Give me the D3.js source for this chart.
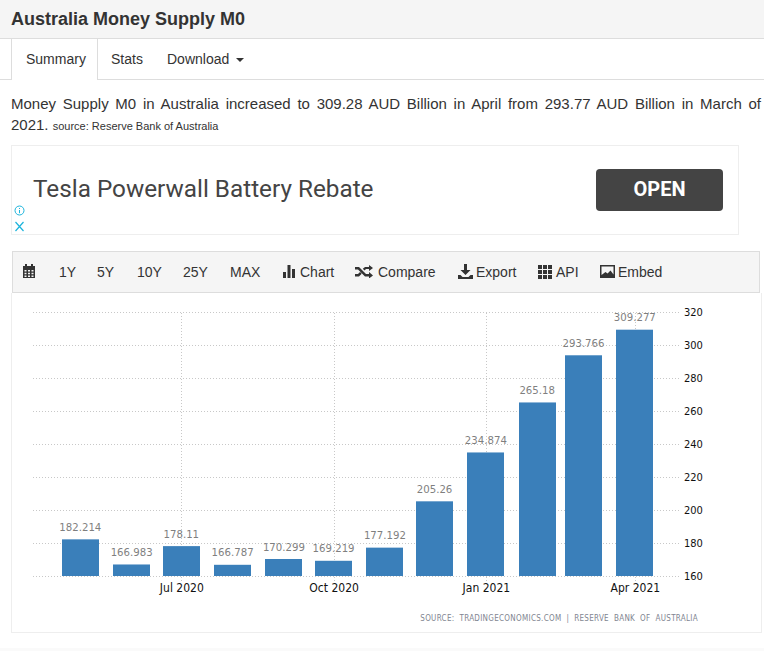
<!DOCTYPE html>
<html lang="en">
<head>
  <meta charset="UTF-8">
  <title>Australia Money Supply M0</title>
  <style>
    html, body { margin: 0; padding: 0; background: #fff; }
    body { width: 764px; height: 651px; position: relative; overflow: hidden; font-family: "Liberation Sans", sans-serif; color: #333; }
    .abs { position: absolute; white-space: nowrap; }
    #header { left: 0; top: 0; width: 764px; height: 38px; background: #f5f5f5; border-bottom: 1px solid #ddd; }
    #title { left: 11px; top: 9px; font-size: 18px; font-weight: bold; line-height: 20px; }
    #tabline { left: 0; top: 79px; width: 764px; height: 1px; background: #ddd; }
    #tab { left: 11px; top: 39px; width: 85px; height: 41px; background: #fff; border-right: 1px solid #ddd; border-left: 1px solid #ddd; box-sizing: content-box; }
    .tabtext { top: 51px; font-size: 14px; line-height: 16px; }
    #caret { left: 236px; top: 58px; width: 0; height: 0; border-left: 4px solid transparent; border-right: 4px solid transparent; border-top: 4px solid #333; }
    #summary1 { left: 11px; top: 93px; width: 750px; white-space: normal; font-size: 15px; line-height: 21.5px; text-align: justify; text-align-last: justify; }
    #summary2 { left: 11px; top: 113.500px; font-size: 15px; line-height: 21.5px; }
    #summary2 small { font-size: 11px; }
    #ad { left: 11px; top: 145px; width: 726px; height: 88px; border: 1px solid #eee; }
    #adtext { left: 33px; top: 175px; font-family: Roboto, sans-serif; font-size: 24.3px; line-height: 28px; color: #444; }
    #adbtn { left: 596px; top: 169px; width: 127px; height: 42px; background: #444; border-radius: 4px; color: #fff; font-family: Roboto, sans-serif; font-weight: bold; font-size: 20px; line-height: 41px; text-align: center; }
    #toolbar { left: 12px; top: 251px; width: 746px; height: 40px; background: #f5f5f5; border: 1px solid #ddd; }
    .tool { top: 264px; font-size: 14px; line-height: 16px; color: #333; }
    #panel { left: 11px; top: 293px; width: 749px; height: 339px; border: 1px solid #eee; border-top: none; }
    #foot { left: 0; top: 648px; width: 764px; height: 3px; background: #fafafa; }
    #chart { left: 0; top: 0; }
    #chart text { font-family: "DejaVu Sans Condensed", "DejaVu Sans", sans-serif; }
    .grid line { stroke: #c8c8c8; stroke-width: 1; stroke-dasharray: 1 2; shape-rendering: crispEdges; }
    .grid path { display: none; }
    .axis path { display: none; }
    .axis text { font-size: 11px; fill: #111; }
    .axis.bottom text { font-size: 12px; }
    .value { font-size: 11.3px; fill: #7f7f7f; text-anchor: middle; }
    .credit { font-size: 8px; fill: #7f8591; text-anchor: end; letter-spacing: 0.3px; word-spacing: 2.4px; }
    svg.icon { position: absolute; fill: #333; }
  </style>
</head>
<body>
  <div class="abs" id="header"></div>
  <div class="abs" id="title">Australia Money Supply M0</div>
  <div class="abs" id="tabline"></div>
  <div class="abs" id="tab"></div>
  <div class="abs tabtext" style="left:26px">Summary</div>
  <div class="abs tabtext" style="left:111px">Stats</div>
  <div class="abs tabtext" style="left:167px">Download</div>
  <div class="abs" id="caret"></div>
  <div class="abs" id="summary1">Money Supply M0 in Australia increased to 309.28 AUD Billion in April from 293.77 AUD Billion in March of</div>
  <div class="abs" id="summary2">2021. <small>source: Reserve Bank of Australia</small></div>

  <div class="abs" id="ad"></div>
  <div class="abs" id="adtext">Tesla Powerwall Battery Rebate</div>
  <div class="abs" id="adbtn">OPEN</div>
  <svg class="icon" style="left:12px;top:204px" width="15" height="30" viewBox="0 0 15 30">
    <circle cx="7.5" cy="6.5" r="4.5" fill="none" stroke="#1cb4dc" stroke-width="1"/>
    <path d="M7.5 4v1M7.5 6v3.2" stroke="#1cb4dc" stroke-width="1" fill="none"/>
    <path d="M3.5 18l8 9M11.5 18l-8 9" stroke="#1cb4dc" stroke-width="1.2" fill="none"/>
  </svg>

  <div class="abs" id="toolbar"></div>
  <div class="abs" id="panel"></div>
  <div class="abs" id="foot"></div>

  <svg class="icon" style="left:22px;top:264px" width="14" height="15" viewBox="0 0 14 15">
    <path d="M1 2h2V0h2v2h4V0h2v2h2v12H1z"/>
    <path d="M2.500 6h2v1.500h-2zM6 6h2v1.500H6zM9.500 6h2v1.500h-2zM2.500 8.800h2v1.500h-2zM6 8.800h2v1.500H6zM9.500 8.800h2v1.500h-2zM2.500 11.500h2V13h-2zM6 11.500h2V13H6zM9.500 11.500h2V13h-2z" fill="#f5f5f5"/>
  </svg>
  <div class="abs tool" style="left:59px">1Y</div>
  <div class="abs tool" style="left:97px">5Y</div>
  <div class="abs tool" style="left:137px">10Y</div>
  <div class="abs tool" style="left:183px">25Y</div>
  <div class="abs tool" style="left:230px">MAX</div>
  <svg class="icon" style="left:283px;top:264px" width="14" height="15" viewBox="0 0 14 15">
    <path d="M0 8h3v6H0zM4.500 1h3v13h-3zM9 5h3v9H9z"/>
  </svg>
  <div class="abs tool" style="left:300px">Chart</div>
  <svg class="icon" style="left:355px;top:265px" width="18" height="13" viewBox="0 0 18 13">
    <path d="M0 2h4l7 7h3V7l4 3.500-4 3v-2h-4L3 4.500H0zM0 9h3l2-2 1.700 1.700L4 11.500H0zM10 2h4V0l4 3-4 3V4h-3L9.500 5.500 7.800 3.800z"/>
  </svg>
  <div class="abs tool" style="left:378px">Compare</div>
  <svg class="icon" style="left:458px;top:264px" width="15" height="15" viewBox="0 0 15 15">
    <path d="M6 0h3v6h3.500l-5 5-5-5H6zM0 11h2.500l2 2h6l2-2H15v4H0z"/>
  </svg>
  <div class="abs tool" style="left:476px">Export</div>
  <svg class="icon" style="left:538px;top:265px" width="14" height="14" viewBox="0 0 14 14">
    <path d="M0 0h4v4H0zM5 0h4v4H5zM10 0h4v4h-4zM0 5h4v4H0zM5 5h4v4H5zM10 5h4v4h-4zM0 10h4v4H0zM5 10h4v4H5zM10 10h4v4h-4z"/>
  </svg>
  <div class="abs tool" style="left:556px">API</div>
  <svg class="icon" style="left:600px;top:265px" width="15" height="13" viewBox="0 0 15 13">
    <path d="M0 0h15v13H0z"/>
    <path d="M1.500 1.500h12v8l-3-4-3 3-2-1.500-4 3z" fill="#f5f5f5"/>
  </svg>
  <div class="abs tool" style="left:618px">Embed</div>

  <svg class="abs" id="chart" width="764" height="651"></svg>

  <script src="https://d3js.org/d3.v7.min.js"></script>
  <script>
    // values
    const months = ["2020-05", "2020-06", "2020-07", "2020-08", "2020-09", "2020-10",
                    "2020-11", "2020-12", "2021-01", "2021-02", "2021-03", "2021-04"];
    const values = [182.214, 166.983, 178.11, 166.787, 170.299, 169.219,
                    177.192, 205.26, 234.874, 265.18, 293.766, 309.277];
    const valueLabels = ["182.214", "166.983", "178.11", "166.787", "170.299", "169.219",
                         "177.192", "205.26", "234.874", "265.18", "293.766", "309.277"];
    const yTicks = [160, 180, 200, 220, 240, 260, 280, 300, 320];
    const xTickMonths = ["2020-07", "2020-10", "2021-01", "2021-04"];
    const credit = "SOURCE: TRADINGECONOMICS.COM | RESERVE BANK OF AUSTRALIA";

    const parseMonth = d3.timeParse("%Y-%m");
    const plotLeft = 33, plotRight = 680, plotTop = 312, plotBottom = 576, barWidth = 37;

    const x = d3.scaleTime()
      .domain([new Date(2020, 3, 2, 9, 36), new Date(2021, 3, 28, 7)])
      .range([plotLeft, plotRight]);
    const y = d3.scaleLinear().domain([160, 320]).range([plotBottom, plotTop]);

    const svg = d3.select("#chart");

    // horizontal grid
    svg.append("g").attr("class", "grid")
      .attr("transform", `translate(${plotLeft},0)`)
      .call(d3.axisLeft(y).tickValues(yTicks).tickSize(-(plotRight - plotLeft)).tickFormat(""));

    // vertical grid, runs down to the tick under the axis
    svg.append("g").attr("class", "grid")
      .attr("transform", `translate(0,${plotBottom + 5})`)
      .call(d3.axisBottom(x).tickValues(xTickMonths.map(parseMonth)).tickSize(-(plotBottom + 5 - plotTop)).tickFormat(""));

    svg.selectAll("rect.bar")
      .data(values)
      .enter().append("rect")
      .attr("class", "bar")
      .attr("x", (d, i) => Math.round(x(parseMonth(months[i])) - barWidth / 2))
      .attr("y", d => y(d))
      .attr("width", barWidth)
      .attr("height", d => plotBottom - y(d))
      .attr("fill", "#3a7fba");

    svg.selectAll("text.value")
      .data(values)
      .enter().append("text")
      .attr("class", "value")
      .attr("x", (d, i) => x(parseMonth(months[i])))
      .attr("y", d => y(d) - 8.5)
      .text((d, i) => valueLabels[i]);

    svg.append("g").attr("class", "axis")
      .attr("transform", `translate(${plotRight},0)`)
      .call(d3.axisRight(y).tickValues(yTicks).tickSize(0).tickPadding(4));

    svg.append("g").attr("class", "axis bottom")
      .attr("transform", `translate(0,${plotBottom})`)
      .call(d3.axisBottom(x).tickValues(xTickMonths.map(parseMonth)).tickSize(0).tickPadding(7)
        .tickFormat(d3.timeFormat("%b %Y")));

    svg.append("text").attr("class", "credit")
      .attr("x", 698).attr("y", 621)
      .text(credit);
  </script>
</body>
</html>
